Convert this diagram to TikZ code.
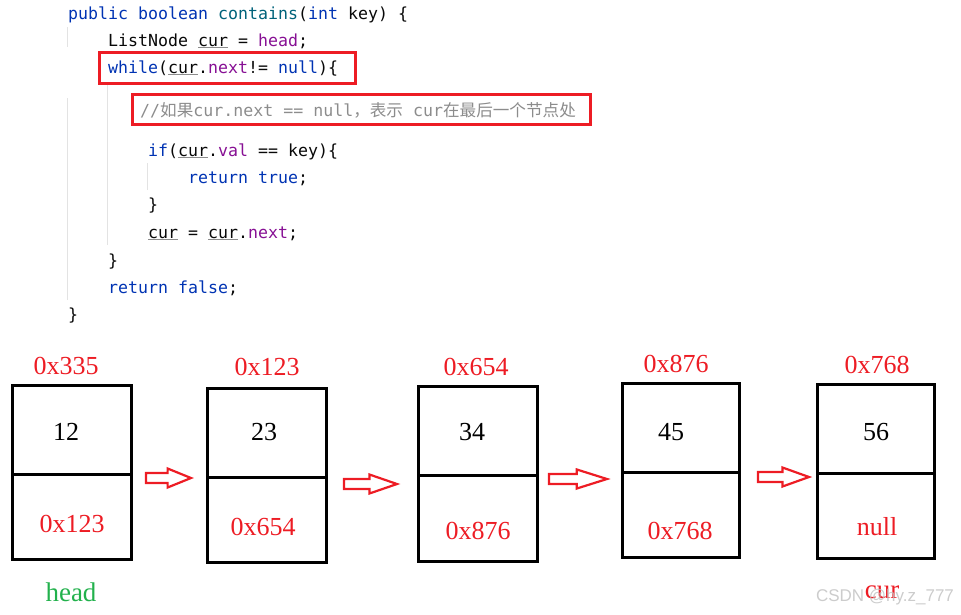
\documentclass[tikz,border=0pt]{standalone}
\usepackage{fontspec}
\usepackage{xcolor}
\usepackage{tikz}
\usetikzlibrary{positioning}
\newfontfamily\codefont{DejaVu Sans Mono}
\newfontfamily\cjkfont{Noto Sans CJK SC}
\newfontfamily\paintfont{Liberation Serif}
\newfontfamily\markfont{Liberation Sans}
\definecolor{kwblue}{HTML}{0033B3}
\definecolor{fnteal}{HTML}{00627A}
\definecolor{fldpurple}{HTML}{871094}
\definecolor{cmtgray}{HTML}{8C8C8C}
\definecolor{codeblack}{HTML}{080808}
\definecolor{guidegray}{HTML}{E3E3E3}
\definecolor{paintred}{HTML}{ED1C24}
\definecolor{paintgreen}{HTML}{22B14C}
\newcommand\kw[1]{\textcolor{kwblue}{#1}}
\newcommand\fn[1]{\textcolor{fnteal}{#1}}
\newcommand\fld[1]{\textcolor{fldpurple}{#1}}
\newcommand\ulvar[1]{\textcolor{cmtgray}{\underline{\textcolor{codeblack}{#1}}}}
\newcommand\zh[1]{{\cjkfont #1}}

\begin{document}
\begin{tikzpicture}[x=1pt, y=-1pt,
  codeline/.style={anchor=base west, inner sep=0pt, text=codeblack,
                   font=\codefont\fontsize{16.6}{20}\selectfont},
  guide/.style={guidegray, line width=1pt},
  markbox/.style={draw=paintred, line width=3pt},
  cell/.style={draw=black, line width=3pt, minimum width=119pt,
               inner sep=0pt, outer sep=0pt},
  val/.style={inner sep=0pt, text=black,
              font=\paintfont\fontsize{26}{30}\selectfont},
  addr/.style={val, text=paintred},
  tag/.style={val, font=\paintfont\fontsize{27}{30}\selectfont},
  pics/hollowarrow/.style={code={
    \draw[paintred, line width=2.2pt, line join=miter]
      (0,-5) -- ({#1*0.48},-5) -- ({#1*0.48},-9.5) -- (#1,0)
      -- ({#1*0.48},9.5) -- ({#1*0.48},5) -- (0,5) -- cycle;}}
]
\useasboundingbox (0,0) rectangle (961,614);

% indent guides
\draw[guide] (67,27) -- (67,47);
\draw[guide] (67,98) -- (67,300);
\draw[guide] (107,85) -- (107,245);
\draw[guide] (147,163) -- (147,190);

% code
\node[codeline] (l1) at (68,19) {\kw{public boolean} \fn{contains}(\kw{int} key) \{};
\node[codeline] (l2) at (108,46) {ListNode \ulvar{cur} = \fld{head};};
\node[codeline] (l3) at (108,73) {\kw{while}(\ulvar{cur}.\fld{next}!= \kw{null})\{};
\node[codeline, text=cmtgray] (l4) at (140,116)
  {//\zh{如果}cur.next == null\zh{，表示} cur\zh{在最后一个节点处}};
\node[codeline] (l5) at (148,156) {\kw{if}(\ulvar{cur}.\fld{val} == key)\{};
\node[codeline] (l6) at (188,183) {\kw{return true};};
\node[codeline] (l7) at (148,210) {\}};
\node[codeline] (l8) at (148,238) {\ulvar{cur} = \ulvar{cur}.\fld{next};};
\node[codeline] (l9) at (108,266) {\}};
\node[codeline] (l10) at (108,293) {\kw{return false};};
\node[codeline] (l11) at (68,320) {\}};

\draw[markbox] (99,52) rectangle (355,83);
\draw[markbox] (132,94) rectangle (590,124);

% list nodes
\node[cell, minimum height=89.5pt] (top1) at (71.5,429.75) {};
\node[cell, minimum height=84.5pt, below=0pt of top1] (bot1) {};
\node[cell, minimum height=89pt] (top2) at (266.5,432.5) {};
\node[cell, minimum height=85pt, below=0pt of top2] (bot2) {};
\node[cell, minimum height=89pt] (top3) at (477.5,430.5) {};
\node[cell, minimum height=86pt, below=0pt of top3] (bot3) {};
\node[cell, minimum width=117pt, minimum height=89pt] (top4) at (680.5,427.5) {};
\node[cell, minimum width=117pt, minimum height=85pt, below=0pt of top4] (bot4) {};
\node[cell, minimum width=117pt, minimum height=89pt] (top5) at (875.5,428.5) {};
\node[cell, minimum width=117pt, minimum height=85pt, below=0pt of top5] (bot5) {};

\node[addr] (a1) at (66,366) {0x335};
\node[addr] (a2) at (267,367) {0x123};
\node[addr] (a3) at (476,367) {0x654};
\node[addr] (a4) at (676,364) {0x876};
\node[addr] (a5) at (877,365) {0x768};

\node[val] (v1) at (66,432) {12};
\node[val] (v2) at (264,432) {23};
\node[val] (v3) at (472,432) {34};
\node[val] (v4) at (671,432) {45};
\node[val] (v5) at (876,432) {56};

\node[addr] (p1) at (72,524) {0x123};
\node[addr] (p2) at (263,527) {0x654};
\node[addr] (p3) at (478,531) {0x876};
\node[addr] (p4) at (680,531) {0x768};
\node[addr] (p5) at (877,527) {null};

\pic at (146,478) {hollowarrow=45};
\pic at (344,484) {hollowarrow=53};
\pic at (549,479) {hollowarrow=58};
\pic at (758,477) {hollowarrow=51};

\node[tag, text=paintgreen] (head) at (71,592) {head};
\node[tag, text=paintred] (cur) at (882,592) {cur};
\node[inner sep=0pt, text=black!25, opacity=0.8,
      font=\markfont\fontsize{17}{20}\selectfont] (csdn) at (885,597) {CSDN @hy.z\_777};
\end{tikzpicture}
\end{document}
